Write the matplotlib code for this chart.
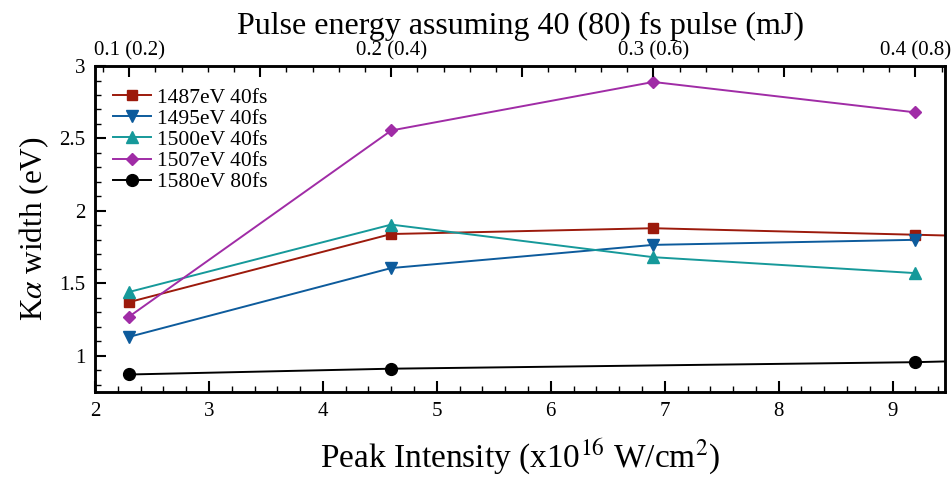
import matplotlib
matplotlib.use("Agg")
import matplotlib.pyplot as plt
from matplotlib.ticker import MultipleLocator, FixedLocator

plt.rcParams['font.family'] = ['Liberation Serif', 'DejaVu Serif']
plt.rcParams['mathtext.fontset'] = 'stix'

# data
intensity = [2.3, 4.6, 6.9, 9.2, 11.5]
w1487 = [1.37, 1.84, 1.88, 1.835, 1.79]
w1495 = [1.13, 1.605, 1.765, 1.80]
w1500 = [1.44, 1.905, 1.68, 1.57]
w1507 = [1.27, 2.555, 2.89, 2.68]
int1580 = [2.3, 4.6, 9.2, 11.5]
w1580 = [0.87, 0.91, 0.955, 1.0]

top_ticks = [2.3 + 1.15 * k for k in range(7)]
top_labels = ['0.1 (0.2)', '', '0.2 (0.4)', '', '0.3 (0.6)', '', '0.4 (0.8)']

fig = plt.figure(figsize=(9.51, 4.82), dpi=100)
ax = fig.add_axes([0.0999, 0.187, 0.8938, 0.676])

ms = 7.5
lw = 1.4
ax.plot(intensity, w1487, color='#9c1a0c', marker='s', ms=ms, lw=lw, label='1487eV 40fs')
ax.plot(intensity[:4], w1495, color='#0d5b9c', marker='v', ms=ms + 1, lw=lw, label='1495eV 40fs')
ax.plot(intensity[:4], w1500, color='#16999a', marker='^', ms=ms + 1, lw=lw, label='1500eV 40fs')
ax.plot(intensity[:4], w1507, color='#a02ca6', marker='D', ms=ms - 1, lw=lw, label='1507eV 40fs')
ax.plot(int1580, w1580, color='black', marker='o', ms=ms + 1, lw=lw, label='1580eV 80fs')

ax.set_xlim(2, 9.46)
ax.set_ylim(0.75, 3.0)

ax.xaxis.set_major_locator(MultipleLocator(1))
ax.xaxis.set_minor_locator(MultipleLocator(0.2))
ax.yaxis.set_minor_locator(MultipleLocator(0.1))
ax.set_yticks([1, 1.5, 2, 2.5, 3])
ax.set_yticklabels(['1', '1.5', '2', '2.5', '3'])

ax.tick_params(axis='both', which='major', direction='in', length=8, width=1.5, labelsize=15)
ax.tick_params(axis='both', which='minor', direction='in', length=4, width=1)
ax.tick_params(axis='x', pad=7)
ax.tick_params(axis='y', pad=7)

for s in ax.spines.values():
    s.set_linewidth(1.8)

ax.set_xlabel(r'Peak Intensity (x10$^{16}$ W/cm$^{2}$)', fontsize=24, labelpad=12)
ax.set_ylabel(r'K$\alpha$ width (eV)', fontsize=22.5, labelpad=6)

top = ax.twiny()
top.set_xlim(ax.get_xlim())
top.xaxis.set_major_locator(FixedLocator(top_ticks))
top.xaxis.set_minor_locator(FixedLocator([2.07 + 0.23 * k for k in range(33)]))
top.set_xticklabels(top_labels)
top.tick_params(axis='x', which='major', direction='in', length=8, width=1.5, labelsize=15, pad=4)
top.tick_params(axis='x', which='minor', direction='in', length=4, width=1)
top.set_xlabel('Pulse energy assuming 40 (80) fs pulse (mJ)', fontsize=23, labelpad=5)
for s in top.spines.values():
    s.set_linewidth(1.8)

leg = ax.legend(loc='upper left', bbox_to_anchor=(-0.004, 1.0), frameon=False, fontsize=15.5,
                handlelength=1.75, labelspacing=0.05, borderaxespad=0.6, handletextpad=0.3)

fig.savefig('out.png', dpi=100)
